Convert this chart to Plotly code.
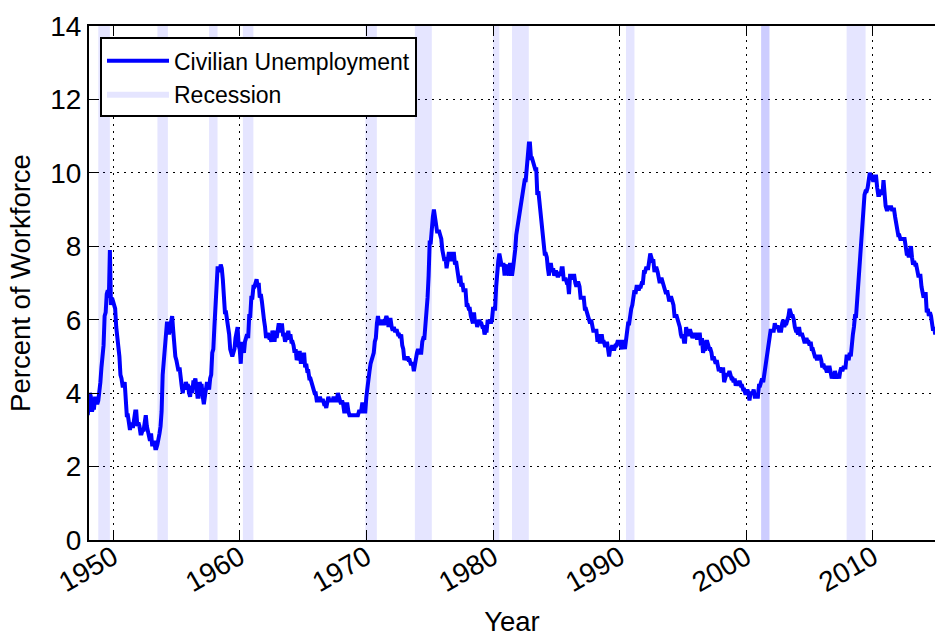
import plotly.graph_objects as go

# Monthly civilian unemployment rate (percent), one row per year, Jan..Dec
start_year = 1948
unrate_rows = [
    [3.4, 3.8, 4.0, 3.9, 3.5, 3.6, 3.6, 3.9, 3.8, 3.7, 3.8, 4.0],  # 1948
    [4.3, 4.7, 5.0, 5.3, 6.1, 6.2, 6.7, 6.8, 6.6, 7.9, 6.4, 6.6],  # 1949
    [6.5, 6.4, 6.3, 5.8, 5.5, 5.4, 5.0, 4.5, 4.4, 4.2, 4.2, 4.3],  # 1950
    [3.7, 3.4, 3.4, 3.1, 3.0, 3.2, 3.1, 3.1, 3.3, 3.5, 3.5, 3.1],  # 1951
    [3.2, 3.1, 2.9, 2.9, 3.0, 3.0, 3.2, 3.4, 3.1, 3.0, 2.8, 2.7],  # 1952
    [2.9, 2.6, 2.6, 2.7, 2.5, 2.5, 2.6, 2.7, 2.9, 3.1, 3.5, 4.5],  # 1953
    [4.9, 5.2, 5.7, 5.9, 5.9, 5.6, 5.8, 6.0, 6.1, 5.7, 5.3, 5.0],  # 1954
    [4.9, 4.7, 4.6, 4.7, 4.3, 4.2, 4.0, 4.2, 4.1, 4.3, 4.2, 4.2],  # 1955
    [4.0, 3.9, 4.2, 4.0, 4.3, 4.3, 4.4, 4.1, 3.9, 3.9, 4.3, 4.2],  # 1956
    [4.2, 3.9, 3.7, 3.9, 4.1, 4.3, 4.2, 4.1, 4.4, 4.5, 5.1, 5.2],  # 1957
    [5.8, 6.4, 6.7, 7.4, 7.4, 7.3, 7.5, 7.4, 7.1, 6.7, 6.2, 6.2],  # 1958
    [6.0, 5.9, 5.6, 5.2, 5.1, 5.0, 5.1, 5.2, 5.5, 5.7, 5.8, 5.3],  # 1959
    [5.2, 4.8, 5.4, 5.2, 5.1, 5.4, 5.5, 5.6, 5.5, 6.1, 6.1, 6.6],  # 1960
    [6.6, 6.9, 6.9, 7.0, 7.1, 6.9, 7.0, 6.6, 6.7, 6.5, 6.1, 6.0],  # 1961
    [5.8, 5.5, 5.6, 5.6, 5.5, 5.5, 5.4, 5.7, 5.6, 5.4, 5.7, 5.5],  # 1962
    [5.7, 5.9, 5.7, 5.7, 5.9, 5.6, 5.6, 5.4, 5.5, 5.5, 5.7, 5.5],  # 1963
    [5.6, 5.4, 5.4, 5.3, 5.1, 5.2, 4.9, 5.0, 5.1, 5.1, 4.8, 5.0],  # 1964
    [4.9, 5.1, 4.7, 4.8, 4.6, 4.6, 4.4, 4.4, 4.3, 4.2, 4.1, 4.0],  # 1965
    [4.0, 3.8, 3.8, 3.8, 3.9, 3.8, 3.8, 3.8, 3.7, 3.7, 3.6, 3.8],  # 1966
    [3.9, 3.8, 3.8, 3.8, 3.8, 3.9, 3.8, 3.8, 3.8, 4.0, 3.9, 3.8],  # 1967
    [3.7, 3.8, 3.7, 3.5, 3.5, 3.7, 3.7, 3.5, 3.4, 3.4, 3.4, 3.4],  # 1968
    [3.4, 3.4, 3.4, 3.4, 3.4, 3.5, 3.5, 3.5, 3.7, 3.7, 3.5, 3.5],  # 1969
    [3.9, 4.2, 4.4, 4.6, 4.8, 4.9, 5.0, 5.1, 5.4, 5.5, 5.9, 6.1],  # 1970
    [5.9, 5.9, 6.0, 5.9, 5.9, 5.9, 6.0, 6.1, 6.0, 5.8, 6.0, 6.0],  # 1971
    [5.8, 5.7, 5.8, 5.7, 5.7, 5.7, 5.6, 5.6, 5.5, 5.6, 5.3, 5.2],  # 1972
    [4.9, 5.0, 4.9, 5.0, 4.9, 4.9, 4.8, 4.8, 4.8, 4.6, 4.8, 4.9],  # 1973
    [5.1, 5.2, 5.1, 5.1, 5.1, 5.4, 5.5, 5.5, 5.9, 6.0, 6.6, 7.2],  # 1974
    [8.1, 8.1, 8.6, 8.8, 9.0, 8.8, 8.6, 8.4, 8.4, 8.4, 8.3, 8.2],  # 1975
    [7.9, 7.7, 7.6, 7.7, 7.4, 7.6, 7.8, 7.8, 7.6, 7.7, 7.8, 7.8],  # 1976
    [7.5, 7.6, 7.4, 7.2, 7.0, 7.2, 6.9, 7.0, 6.8, 6.8, 6.8, 6.4],  # 1977
    [6.4, 6.3, 6.3, 6.1, 6.0, 5.9, 6.2, 5.9, 6.0, 5.8, 5.9, 6.0],  # 1978
    [5.9, 5.9, 5.8, 5.8, 5.6, 5.7, 5.7, 6.0, 5.9, 6.0, 5.9, 6.0],  # 1979
    [6.3, 6.3, 6.3, 6.9, 7.5, 7.6, 7.8, 7.7, 7.5, 7.5, 7.5, 7.2],  # 1980
    [7.5, 7.4, 7.4, 7.2, 7.5, 7.5, 7.2, 7.4, 7.6, 7.9, 8.3, 8.5],  # 1981
    [8.6, 8.9, 9.0, 9.3, 9.4, 9.6, 9.8, 9.8, 10.1, 10.4, 10.8, 10.8],  # 1982
    [10.4, 10.4, 10.3, 10.2, 10.1, 10.1, 9.4, 9.5, 9.2, 8.8, 8.5, 8.3],  # 1983
    [8.0, 7.8, 7.8, 7.7, 7.4, 7.2, 7.5, 7.5, 7.3, 7.4, 7.2, 7.3],  # 1984
    [7.3, 7.2, 7.2, 7.3, 7.2, 7.4, 7.4, 7.1, 7.1, 7.1, 7.0, 7.0],  # 1985
    [6.7, 7.2, 7.2, 7.1, 7.2, 7.2, 7.0, 6.9, 7.0, 7.0, 6.9, 6.6],  # 1986
    [6.6, 6.6, 6.6, 6.3, 6.3, 6.2, 6.1, 6.0, 5.9, 6.0, 5.8, 5.7],  # 1987
    [5.7, 5.7, 5.7, 5.4, 5.6, 5.4, 5.4, 5.6, 5.4, 5.4, 5.3, 5.3],  # 1988
    [5.4, 5.2, 5.0, 5.2, 5.2, 5.3, 5.2, 5.2, 5.3, 5.3, 5.4, 5.4],  # 1989
    [5.4, 5.3, 5.2, 5.4, 5.4, 5.2, 5.5, 5.7, 5.9, 5.9, 6.2, 6.3],  # 1990
    [6.4, 6.6, 6.8, 6.7, 6.9, 6.9, 6.8, 6.9, 6.9, 7.0, 7.0, 7.3],  # 1991
    [7.3, 7.4, 7.4, 7.4, 7.6, 7.8, 7.7, 7.6, 7.6, 7.3, 7.4, 7.4],  # 1992
    [7.3, 7.1, 7.0, 7.1, 7.1, 7.0, 6.9, 6.8, 6.7, 6.8, 6.6, 6.5],  # 1993
    [6.6, 6.6, 6.5, 6.4, 6.1, 6.1, 6.1, 6.0, 5.9, 5.8, 5.6, 5.5],  # 1994
    [5.6, 5.4, 5.4, 5.8, 5.6, 5.6, 5.7, 5.7, 5.6, 5.5, 5.6, 5.6],  # 1995
    [5.6, 5.5, 5.5, 5.6, 5.6, 5.3, 5.5, 5.1, 5.2, 5.2, 5.4, 5.4],  # 1996
    [5.3, 5.2, 5.2, 5.1, 4.9, 5.0, 4.9, 4.8, 4.9, 4.7, 4.6, 4.7],  # 1997
    [4.6, 4.6, 4.7, 4.3, 4.4, 4.5, 4.5, 4.5, 4.6, 4.5, 4.4, 4.4],  # 1998
    [4.3, 4.4, 4.2, 4.3, 4.2, 4.3, 4.3, 4.2, 4.2, 4.1, 4.1, 4.0],  # 1999
    [4.0, 4.1, 4.0, 3.8, 4.0, 4.0, 4.0, 4.1, 3.9, 3.9, 3.9, 3.9],  # 2000
    [4.2, 4.2, 4.3, 4.4, 4.3, 4.5, 4.6, 4.9, 5.0, 5.3, 5.5, 5.7],  # 2001
    [5.7, 5.7, 5.7, 5.9, 5.8, 5.8, 5.8, 5.7, 5.7, 5.7, 5.9, 6.0],  # 2002
    [5.8, 5.9, 5.9, 6.0, 6.1, 6.3, 6.2, 6.1, 6.1, 6.0, 5.8, 5.7],  # 2003
    [5.7, 5.6, 5.8, 5.6, 5.6, 5.6, 5.5, 5.4, 5.4, 5.5, 5.4, 5.4],  # 2004
    [5.3, 5.4, 5.2, 5.2, 5.1, 5.0, 5.0, 4.9, 5.0, 5.0, 5.0, 4.9],  # 2005
    [4.7, 4.8, 4.7, 4.7, 4.6, 4.6, 4.7, 4.7, 4.5, 4.4, 4.5, 4.4],  # 2006
    [4.6, 4.5, 4.4, 4.5, 4.4, 4.6, 4.7, 4.6, 4.7, 4.7, 4.7, 5.0],  # 2007
    [5.0, 4.9, 5.1, 5.0, 5.4, 5.6, 5.8, 6.1, 6.1, 6.5, 6.8, 7.3],  # 2008
    [7.8, 8.3, 8.7, 9.0, 9.4, 9.5, 9.5, 9.6, 9.8, 10.0, 9.9, 9.9],  # 2009
    [9.8, 9.8, 9.9, 9.9, 9.6, 9.4, 9.4, 9.5, 9.5, 9.4, 9.8, 9.3],  # 2010
    [9.1, 9.0, 9.0, 9.1, 9.0, 9.1, 9.0, 9.0, 9.0, 8.8, 8.6, 8.5],  # 2011
    [8.3, 8.3, 8.2, 8.2, 8.2, 8.2, 8.2, 8.0, 7.8, 7.8, 7.7, 7.9],  # 2012
    [8.0, 7.7, 7.5, 7.6, 7.5, 7.5, 7.3, 7.2, 7.2, 7.2, 6.9, 6.7],  # 2013
    [6.6, 6.7, 6.7, 6.2, 6.3, 6.1, 6.2, 6.1, 5.9, 5.7, 5.8, 5.6],  # 2014
    [5.7, 5.5, 5.4],                                              # 2015
]

# NBER recessions (start, end) as decimal years; 2001 appears twice in the source
recession_start = [1948.83, 1953.50, 1957.58, 1960.25, 1969.92, 1973.83,
                   1980.00, 1981.50, 1990.50, 2001.17, 2001.17, 2007.92]
recession_end = [1949.75, 1954.33, 1958.25, 1961.08, 1970.83, 1975.17,
                 1980.50, 1982.83, 1991.17, 2001.83, 2001.83, 2009.42]

x_ticks = [1950, 1960, 1970, 1980, 1990, 2000, 2010]
y_ticks = [0, 2, 4, 6, 8, 10, 12, 14]

dates, rates = [], []
for i, row in enumerate(unrate_rows):
    for m, v in enumerate(row):
        dates.append(start_year + i + m / 12.0)
        rates.append(v)

FONT = "Liberation Sans, Arial, Helvetica, sans-serif"
fig = go.Figure()

for k, (s, e) in enumerate(zip(recession_start, recession_end)):
    fig.add_trace(go.Scatter(
        x=[s, s, e, e, s], y=[0, 14, 14, 0, 0],
        mode="lines", fill="toself",
        fillcolor="rgba(0,0,255,0.1)", line=dict(width=0, color="rgba(0,0,255,0)"),
        name="Recession", showlegend=(k == 0),
        legendrank=2, hoverinfo="skip",
    ))

fig.add_trace(go.Scatter(
    x=dates, y=rates, mode="lines",
    line=dict(color="#0000ff", width=4),
    name="Civilian Unemployment", legendrank=1,
))

axis_common = dict(
    showline=True, linecolor="black", linewidth=2,
    ticks="inside", ticklen=10, tickwidth=1, tickcolor="black",
    showgrid=True, gridcolor="black", gridwidth=1, griddash="2px,5px",
    zeroline=False, automargin=False,
    tickfont=dict(family=FONT, size=28, color="black"),
    title_font=dict(family=FONT, size=27.5, color="black"),
)

fig.update_xaxes(
    **axis_common, range=[1948.1, 2014.9], tickvals=x_ticks,
    ticktext=[str(t) for t in x_ticks], tickangle=-30, mirror="ticks",
    ticklabelstandoff=-12,
    title_text="Year", title_standoff=20,
)
fig.update_yaxes(
    **axis_common, range=[0, 14], tickvals=y_ticks,
    ticktext=[str(t) for t in y_ticks], mirror=False,
    title_text="Percent of Workforce", title_standoff=12,
)

fig.update_layout(
    width=935, height=637,
    margin=dict(l=89, r=0, t=26, b=97),
    plot_bgcolor="white", paper_bgcolor="white",
    font=dict(family=FONT, color="black"),
    legend=dict(
        x=0.013, y=0.978, xanchor="left", yanchor="top",
        bgcolor="white", bordercolor="black", borderwidth=2,
        font=dict(family=FONT, size=23, color="black"),
        itemwidth=62, traceorder="normal", tracegroupgap=0,
    ),
    showlegend=True,
)

fig.write_html(
    "out.html",
    config={"displayModeBar": False},
    post_script="document.body.style.margin='0';document.body.style.overflow='hidden';",
)
